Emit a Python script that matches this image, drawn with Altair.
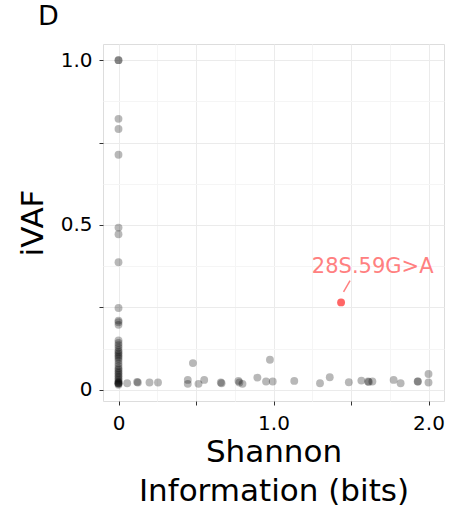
import altair as alt
import pandas as pd

# grey points: Shannon information (bits) and iVAF
shannon = [0, 0, 0, 0, 0, 0, 0, 0, 0, 0, 0, 0,
           0, 0, 0, 0, 0, 0, 0, 0, 0, 0, 0, 0, 0, 0, 0, 0, 0, 0, 0, 0, 0, 0, 0, 0, 0, 0, 0,
           0.056, 0.12, 0.125, 0.2, 0.255, 0.447, 0.447, 0.48, 0.516, 0.553, 0.66, 0.665,
           0.774, 0.78, 0.80, 0.896, 0.952, 0.977, 0.995, 1.134, 1.30, 1.363, 1.486, 1.567,
           1.61, 1.615, 1.638, 1.775, 1.82, 1.93, 1.932, 2.0, 2.0]
ivaf = [1.0, 1.0, 0.822, 0.791, 0.713, 0.492, 0.472, 0.387, 0.248, 0.21, 0.205, 0.197,
        0.15, 0.142, 0.135, 0.128, 0.12, 0.115, 0.11, 0.105, 0.1, 0.095, 0.088, 0.08, 0.072,
        0.065, 0.06, 0.055, 0.05, 0.045, 0.04, 0.035, 0.03, 0.025, 0.022, 0.02, 0.02, 0.018, 0.015,
        0.02, 0.024, 0.022, 0.022, 0.022, 0.03, 0.018, 0.081, 0.018, 0.03, 0.022, 0.02,
        0.027, 0.022, 0.018, 0.037, 0.025, 0.091, 0.025, 0.027, 0.02, 0.038, 0.023, 0.028,
        0.025, 0.024, 0.025, 0.03, 0.02, 0.025, 0.025, 0.048, 0.022]

# highlighted variant
hl_name = ["28S.59G>A"]
hl_shannon = [1.436]
hl_ivaf = [0.265]
# repelled label position and connector segment
lab_x = [1.64]
lab_y = [0.373]
seg_x = [1.452]
seg_y = [0.297]
seg_x2 = [1.494]
seg_y2 = [0.331]

df = pd.DataFrame({"x": shannon, "y": ivaf})
hl = pd.DataFrame({"x": hl_shannon, "y": hl_ivaf, "name": hl_name,
                   "lx": lab_x, "ly": lab_y,
                   "sx": seg_x, "sy": seg_y, "sx2": seg_x2, "sy2": seg_y2})

FONT = "DejaVu Sans"
xvals = [i * 0.25 for i in range(9)]
yvals = [i * 0.125 for i in range(9)]

xscale = alt.Scale(domain=[-0.1, 2.1], nice=False, zero=False)
yscale = alt.Scale(domain=[-0.034, 1.049], nice=False, zero=False)

xaxis = alt.Axis(
    values=xvals,
    title=["Shannon", "Information (bits)"],
    titleFontSize=31, titleFont=FONT, titleFontWeight="normal", titleColor="black",
    titleLineHeight=39, titlePadding=4,
    labelExpr="datum.value == 0 ? '0' : (datum.value == 1 ? '1.0' : (datum.value == 2 ? '2.0' : ''))",
    labelFontSize=20, labelFont=FONT, labelColor="black", labelPadding=8,
    labelFlush=False, labelOverlap=False,
    tickColor="#333333", tickSize=4,
    tickOpacity={"condition": {"test": "datum.value % 0.5 == 0", "value": 1}, "value": 0},
    gridColor={"condition": {"test": "datum.value % 0.5 == 0", "value": "#EBEBEB"}, "value": "#F5F5F5"},
    domain=False,
)
yaxis = alt.Axis(
    values=yvals,
    title="iVAF",
    titleFontSize=31, titleFont=FONT, titleFontWeight="normal", titleColor="black",
    titlePadding=11,
    labelExpr="datum.value == 0 ? '0' : (datum.value == 0.5 ? '0.5' : (datum.value == 1 ? '1.0' : ''))",
    labelFontSize=20, labelFont=FONT, labelColor="black", labelPadding=7,
    labelFlush=False, labelOverlap=False,
    tickColor="#333333", tickSize=4,
    tickOpacity={"condition": {"test": "datum.value % 0.25 == 0", "value": 1}, "value": 0},
    gridColor={"condition": {"test": "datum.value % 0.25 == 0", "value": "#EBEBEB"}, "value": "#F5F5F5"},
    domain=False,
)

pts = alt.Chart(df).mark_circle(size=62, color="black", opacity=0.28).encode(
    x=alt.X("x:Q", scale=xscale, axis=xaxis),
    y=alt.Y("y:Q", scale=yscale, axis=yaxis),
)

red = alt.Chart(hl).mark_circle(size=62, color="#FF6666", opacity=1).encode(
    x="x:Q", y="y:Q"
)
seg = alt.Chart(hl).mark_rule(color="#FF8080", strokeWidth=1.5).encode(
    x="sx:Q", y="sy:Q", x2="sx2:Q", y2="sy2:Q"
)
txt = alt.Chart(hl).mark_text(color="#FF8080", fontSize=21, font=FONT,
                              align="center", baseline="middle").encode(
    x="lx:Q", y="ly:Q", text="name:N"
)

chart = alt.layer(pts, seg, red, txt).properties(
    width=341, height=357,
    autosize=alt.AutoSizeParams(type="none"),
    padding={"left": 103, "top": 44, "right": 21, "bottom": 114},
    title=alt.TitleParams("D", anchor="start", frame="group", dx=-65, offset=13,
                          fontSize=27, font=FONT, fontWeight="normal", color="black"),
).configure_view(
    stroke="#B3B3B3", strokeWidth=1
).configure(background="white")

chart.save("out.html", embed_options={"renderer": "svg", "actions": False})
